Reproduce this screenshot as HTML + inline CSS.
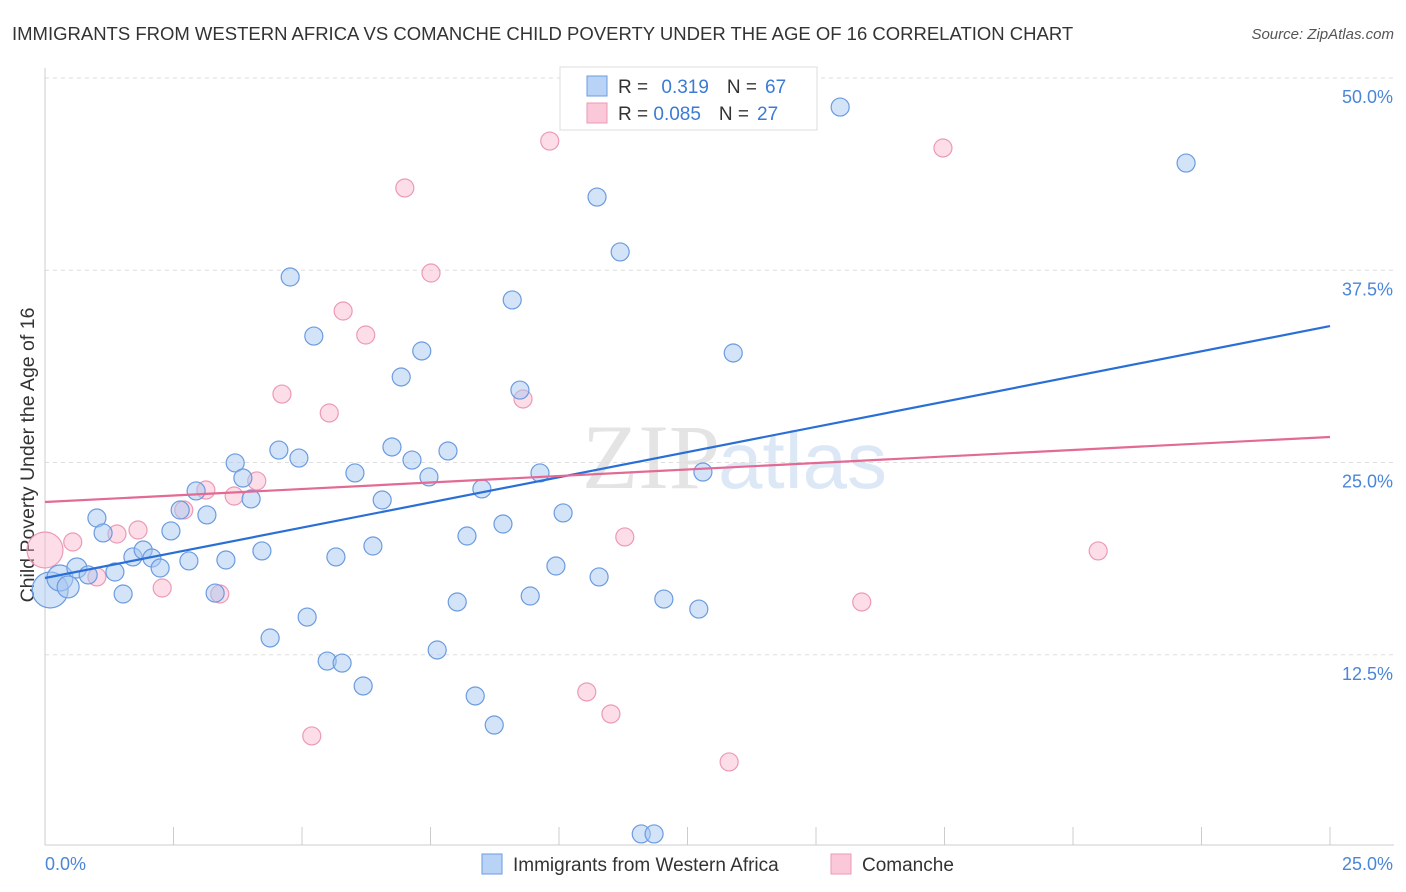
<!DOCTYPE html>
<html><head><meta charset="utf-8"><style>
body{margin:0;background:#fff;font-family:"Liberation Sans",sans-serif;}
#wrap{position:relative;width:1406px;height:892px;overflow:hidden;}
</style></head><body>
<div id="wrap">
<svg id="svg" width="1406" height="892" xmlns="http://www.w3.org/2000/svg">
<text x="12" y="40" font-size="18.5" fill="#333">IMMIGRANTS FROM WESTERN AFRICA VS COMANCHE CHILD POVERTY UNDER THE AGE OF 16 CORRELATION CHART</text>
<text x="1394" y="39" font-size="15" fill="#555" text-anchor="end" font-style="italic">Source: ZipAtlas.com</text>
<text x="720" y="488" font-size="92" fill="#e4e4e4" text-anchor="end" font-family="Liberation Serif">ZIP</text>
<text x="718" y="488" font-size="80" fill="#dde8f6">atlas</text>
<text transform="translate(34,455) rotate(-90)" font-size="19.5" fill="#333" text-anchor="middle">Child Poverty Under the Age of 16</text>
<g id="grid"></g><g id="axes"></g><g id="pts"></g><g id="lines"></g>
<g>
<rect x="560" y="67" width="257" height="63" fill="#fff" stroke="#ddd"/>
<rect x="587" y="76" width="20" height="20" fill="#b8d3f5" stroke="#6b9be0"/>
<rect x="587" y="103" width="20" height="20" fill="#fac8d8" stroke="#ec9ab5"/>
<text x="618" y="93" font-size="19" fill="#333">R = <tspan fill="#3a7bd5" dx="8">0.319</tspan><tspan dx="18" fill="#333">N =</tspan><tspan dx="8" fill="#3a7bd5">67</tspan></text>
<text x="618" y="120" font-size="19" fill="#333">R = <tspan fill="#3a7bd5">0.085</tspan><tspan dx="18" fill="#333">N =</tspan><tspan dx="8" fill="#3a7bd5">27</tspan></text>
</g>
<g>
<rect x="482" y="854" width="20" height="20" fill="#b8d3f5" stroke="#6b9be0"/>
<text x="513" y="871" font-size="19" fill="#333">Immigrants from Western Africa</text>
<rect x="831" y="854" width="20" height="20" fill="#fac8d8" stroke="#ec9ab5"/>
<text x="862" y="871" font-size="19" fill="#333">Comanche</text>
</g>
</svg>
</div>
<script>
const yTicks=[12.5,25,37.5,50];
const yTickLabels=["12.5%","25.0%","37.5%","50.0%"];
const xTickLabels=["0.0%","25.0%"];
const blueX=[0.10,0.29,0.45,0.62,0.84,1.01,1.13,1.36,1.52,1.71,1.91,2.08,2.24,2.45,2.63,2.80,2.94,3.15,3.31,3.52,3.70,3.85,4.01,4.22,4.38,4.55,4.77,4.94,5.10,5.23,5.49,5.66,5.78,6.03,6.19,6.38,6.56,6.75,6.93,7.14,7.33,7.47,7.63,7.84,8.02,8.21,8.37,8.50,8.74,8.91,9.09,9.24,9.44,9.63,9.94,10.08,10.74,10.78,11.19,11.60,11.85,12.04,12.72,12.80,13.39,15.47,22.20];
const blueY=[16.71,17.49,16.91,18.14,17.69,21.39,20.42,17.88,16.45,18.86,19.31,18.79,18.14,20.55,21.91,18.60,23.15,21.59,16.51,18.66,24.97,23.99,22.63,19.25,13.59,25.81,37.06,25.29,14.95,33.22,12.09,18.86,11.96,24.32,10.47,19.57,22.56,26.01,30.56,25.16,32.25,24.06,12.81,25.75,15.93,20.22,9.82,23.28,7.93,21.00,35.57,29.71,16.32,24.32,18.27,21.72,42.26,17.56,38.69,0.85,0.85,16.12,15.47,24.38,32.12,48.11,44.47];
const blueR=[18,13,11,10,9];
const pinkX=[0,0.54,1.01,1.40,1.81,2.28,2.70,3.13,3.40,3.68,4.12,4.61,5.19,5.53,5.80,6.24,7.00,7.51,9.30,9.82,10.54,11.01,11.28,13.31,15.89,17.47,20.49];
const pinkY=[19.31,19.83,17.56,20.35,20.61,16.84,21.91,23.21,16.45,22.82,23.80,29.45,7.22,28.22,34.85,33.29,42.85,37.32,29.13,45.90,10.08,8.65,20.16,5.53,15.93,45.45,19.25];
const pinkR=[18];
const blueTrend=[17.49,33.87];
const pinkTrend=[22.43,26.66];
const X0=45,X1=1330,Y0=847,PPU=15.38;
const xs=v=>X0+(v/25)*(X1-X0), ys=v=>Y0-v*PPU;
const NS="http://www.w3.org/2000/svg";
function mk(t,a,p){const e=document.createElementNS(NS,t);for(const k in a)e.setAttribute(k,a[k]);p.appendChild(e);return e;}
const grid=document.getElementById('grid'),axes=document.getElementById('axes'),pts=document.getElementById('pts'),lines=document.getElementById('lines');
yTicks.forEach((t,i)=>{
 const l=mk('line',{x1:45,x2:1394,y1:ys(t),y2:ys(t),stroke:'#ddd','stroke-dasharray':'4,4'},grid);
 
 
 const tx=mk('text',{x:1393,y:ys(t)+25,'font-size':18,fill:'#4a86d8','text-anchor':'end'},axes);
 tx.textContent=yTickLabels[i];
 
 
});
const ax=mk('line',{x1:45,x2:1394,y1:845,y2:845,stroke:'#ccc'},axes);


const ay=mk('line',{x1:45,x2:45,y1:68,y2:845,stroke:'#ccc'},axes);


for(let i=1;i<=10;i++){
 const t=mk('line',{x1:xs(i*2.5),x2:xs(i*2.5),y1:827,y2:845,stroke:'#ccc'},axes);
 
 
}
[[0,'start',45],[1,'end',1393]].forEach(([i,a,x])=>{
 const tx=mk('text',{x:x,y:870,'font-size':18,fill:'#4a86d8','text-anchor':a},axes);
 tx.textContent=xTickLabels[i];
 
 
});
function dots(X,Y,R,fill,stroke,name){
 X.forEach((x,i)=>{
  const c=mk('circle',{cx:xs(x),cy:ys(Y[i]),r:R[i]||9,fill:fill,stroke:stroke,'stroke-width':1.2},pts);
  
  
 });
}
dots(pinkX,pinkY,pinkR,'rgba(248,180,203,0.45)','#ec9ab5','pink-point');
dots(blueX,blueY,blueR,'rgba(168,200,242,0.5)','#6b9be0','blue-point');
const bl=mk('line',{x1:xs(0),y1:ys(blueTrend[0]),x2:xs(25),y2:ys(blueTrend[1]),stroke:'#2a6fd6','stroke-width':2.2},lines);


const pl=mk('line',{x1:xs(0),y1:ys(pinkTrend[0]),x2:xs(25),y2:ys(pinkTrend[1]),stroke:'#e36a95','stroke-width':2.2},lines);


</script>
</body></html>
